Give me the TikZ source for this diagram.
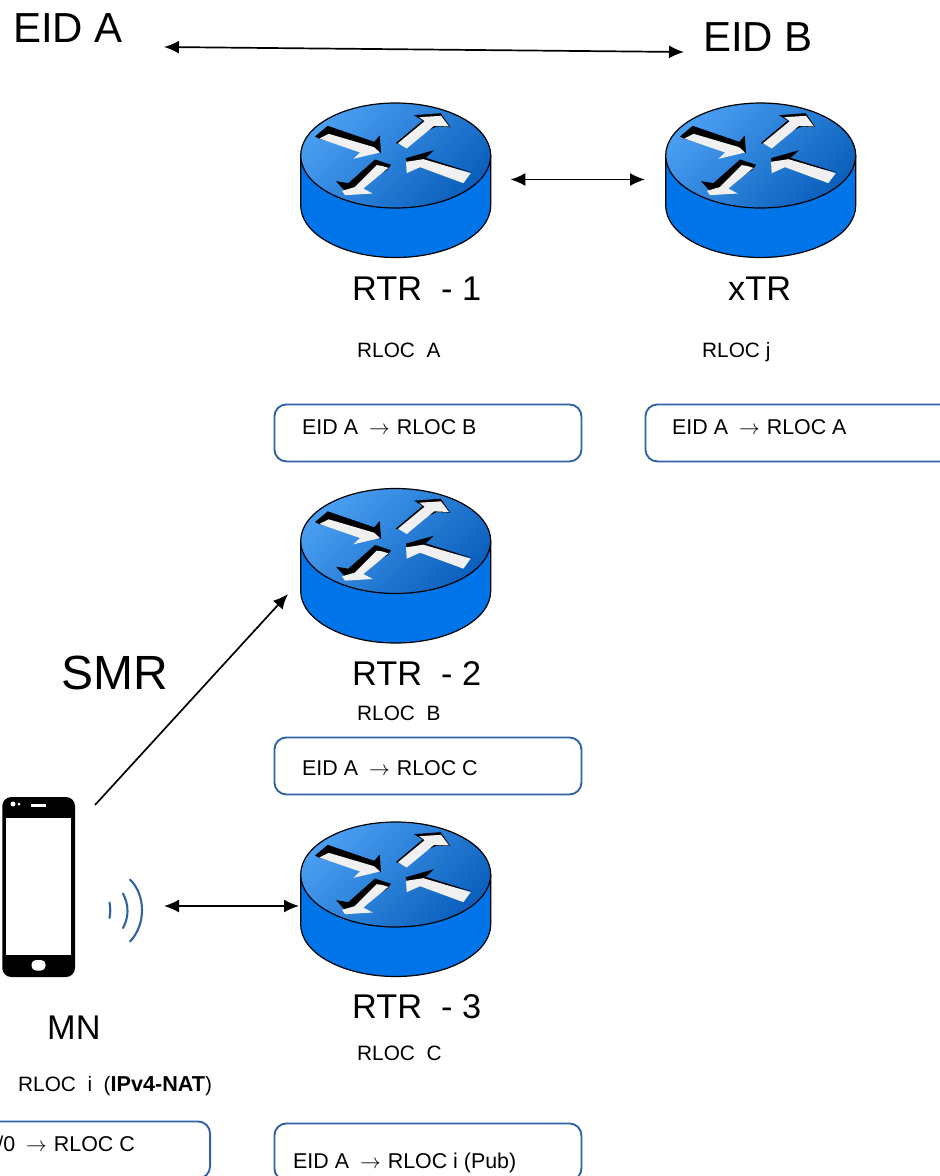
\documentclass[tikz,border=0pt]{standalone}
\usepackage{fontspec}
\setmainfont{Liberation Sans}
\usetikzlibrary{arrows.meta}
\definecolor{boxblue}{HTML}{2F63A6}
\definecolor{sideblue}{HTML}{0075EA}
\definecolor{lightblue}{HTML}{4A9EF2}
\definecolor{darkblue}{HTML}{0A60BC}
\definecolor{arrowwhite}{HTML}{F0F0F0}
\newcommand{\toarrow}{\hspace{11pt}$\rightarrow$\hspace{7pt}}
\tikzset{
  x=1pt,y=-1pt,
  lbl/.style={inner sep=0pt,anchor=base west,font=\fontsize{20.8}{24}\selectfont},
  tbl/.style={inner sep=0pt,anchor=base west,font=\fontsize{21.4}{24}\selectfont},
  midlbl/.style={inner sep=0pt,anchor=base west,font=\fontsize{34.3}{40}\selectfont},
  biglbl/.style={inner sep=0pt,anchor=base west,font=\fontsize{42}{48}\selectfont},
  tablebox/.style={draw=boxblue,line width=1.9pt,rounded corners=12pt,fill=none,inner sep=0pt,minimum width=307pt,minimum height=57pt,anchor=north west},
  link/.style={draw=black,line width=1.7pt,{Latex[length=15pt,width=13pt]}-{Latex[length=15pt,width=13pt]}},
  onelink/.style={draw=black,line width=1.7pt,-{Latex[length=15pt,width=13pt]}},
  routerbox/.style={inner sep=0pt,minimum width=191pt,minimum height=155pt},
  phonebox/.style={inner sep=0pt,minimum width=73pt,minimum height=180pt},
  wave/.style={draw=boxblue,line width=2.1pt,line cap=round},
  pics/router/.style={code={
    \path[fill=sideblue,draw=black,line width=1.2pt] (-95,0) -- (-95,50) arc[start angle=180,end angle=0,x radius=95,y radius=52] -- (95,0) -- cycle;
    \path[draw=black,line width=1.2pt,top color=lightblue,bottom color=darkblue,shading angle=45] (0,0) ellipse[x radius=95,y radius=52.5];
    \begin{scope}[x=.33333pt,y=-.33333pt,shift={(-347,-197)}]
      % upper-left arrow
      \fill[black] (105,140) -- (143,108) -- (283,156) -- (299,137) -- (303,190) -- (240,180) -- (118,147) -- cycle;
      \fill[arrowwhite] (118,146) -- (146,132) -- (282,172) -- (300,188) -- (220,207) -- (240,188) -- cycle;
      % upper-right arrow
      \fill[black] (347,160) -- (428,92) -- (402,76) -- (482,70) -- (511,112) -- (470,110) -- (355,162) -- cycle;
      \fill[arrowwhite] (380,176) -- (462,108) -- (507,110) -- (483,78) -- (418,82) -- (434,94) -- (354,160) -- cycle;
      % lower-right arrow
      \fill[black] (378,205) -- (462,181) -- (437,204) -- (577,248) -- (440,216) -- (380,220) -- cycle;
      \fill[arrowwhite] (378,216) -- (430,208) -- (572,250) -- (550,280) -- (420,232) -- (380,250) -- cycle;
      % lower-left arrow
      \fill[black] (285,209) -- (333,225) -- (322,240) -- (225,298) -- (195,304) -- (168,274) -- (205,280) -- cycle;
      \fill[arrowwhite] (305,228) -- (325,234) -- (250,296) -- (278,311) -- (195,316) -- (186,303) -- (224,292) -- (290,226) -- cycle;
    \end{scope}
  }},
}
\begin{document}
\begin{tikzpicture}[x=1pt,y=-1pt]
\useasboundingbox (0,0) rectangle (940,1176);
\clip (0,0) rectangle (940,1176);

% routers
\pic at (395.7,155.5) {router};
\pic at (760.7,155.5) {router};
\pic at (395.7,541) {router};
\pic at (395.7,874.5) {router};
\node[routerbox] (r1) at (395.7,179.5) {};
\node[routerbox] (xtr) at (760.7,179.5) {};
\node[routerbox] (r2) at (395.7,565) {};
\node[routerbox] (r3) at (395.7,898.5) {};

% phone
\node[phonebox] (mn) at (38.5,887) {};
\fill[black,rounded corners=9pt] (2.3,797) rectangle (75,977);
\fill[white] (6,818) rectangle (71,955);
\fill[white,rounded corners=4.5pt] (31.5,960) rectangle (45.5,970.5);
\fill[white] (31,804.4) rectangle (46,806.6);
\fill[white] (13,804) circle[radius=2.5];
\fill[white] (19,804) circle[radius=1.5];

% waves
\draw[wave] (109.5,902.5) .. controls (110.5,908) and (110.5,913) .. (109.5,918);
\draw[wave] (123,893.5) .. controls (129,905) and (129,917) .. (123,928);
\draw[wave] (130,879.5) .. controls (146,895) and (146,925) .. (130,941.5);

% labels
\node[biglbl] (eida) at (13,42) {EID A};
\node[biglbl] (eidb) at (703,51) {EID B};
\node[midlbl] (l1) at (352,300) {RTR\ \ - 1};
\node[midlbl] (l2) at (728,300) {xTR};
\node[midlbl] (l3) at (352,685) {RTR\ \ - 2};
\node[midlbl] (l4) at (352,1018) {RTR\ \ - 3};
\node[midlbl] (l5) at (47,1039) {MN};
\node[inner sep=0pt,anchor=base west,font=\fontsize{48}{54}\selectfont] (smr) at (61,689) {SMR};
\node[lbl] (ra) at (357,357) {RLOC\ \ A};
\node[lbl] (rj) at (702,357) {RLOC j};
\node[lbl] (rb) at (357,720) {RLOC\ \ B};
\node[lbl] (rc) at (357,1060) {RLOC\ \ C};
\node[lbl] (ri) at (18,1091) {RLOC\ \ i\ \ (\textbf{\fontsize{21.6}{24}\selectfont IPv4-NAT})};

% tables
\node[tablebox] (t1) at (273.5,403.5) {};
\node[tbl] (t1a) at (302,434) {EID A\toarrow RLOC B};
\node[tablebox] (t2) at (644.5,403.5) {};
\node[tbl] (t2a) at (672,434) {EID A\toarrow RLOC A};
\node[tablebox] (t3) at (273.5,736.5) {};
\node[tbl] (t3a) at (302,775) {EID A\toarrow RLOC C};
\node[tablebox] (t4) at (273.5,1122.5) {};
\node[tbl] (t4a) at (293,1168) {EID A\toarrow RLOC i (Pub)};
\node[tablebox,anchor=north east] (t5) at (211,1120.5) {};
\node[tbl,anchor=base east] (t5a) at (135,1151) {0/0\toarrow RLOC C};

% connectors
\coordinate (a1) at (164,47);
\coordinate (a2) at (684,52);
\draw[link] (a1) -- (a2);
\draw[link,shorten <=19pt,shorten >=20pt] (r1.east) -- (xtr.west);
\coordinate (s1) at (95,805);
\coordinate (s2) at (288,594);
\draw[onelink] (s1) -- (s2);
\coordinate (w1) at (164,906);
\coordinate (w2) at (299,906);
\draw[link] (w1) -- (w2);
\end{tikzpicture}
\end{document}
